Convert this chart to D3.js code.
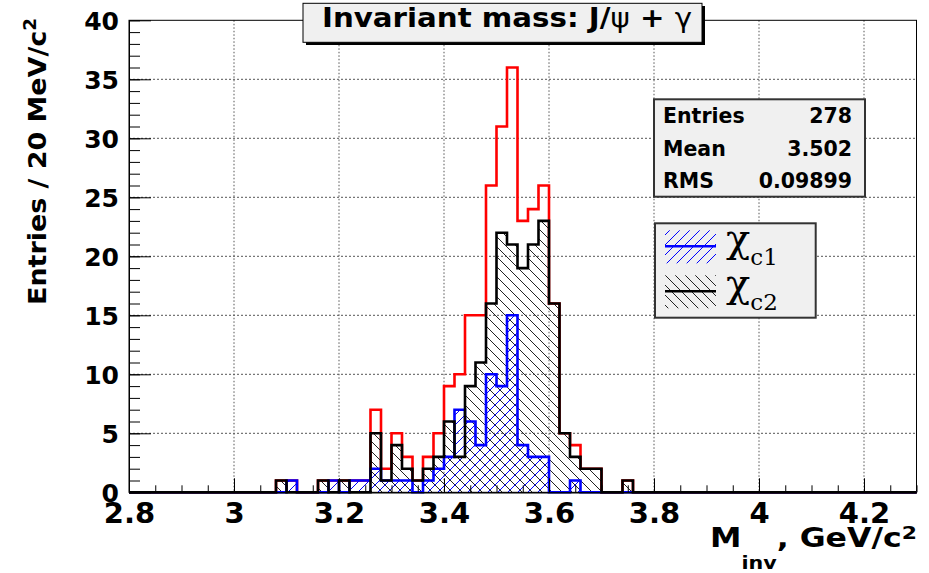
<!DOCTYPE html>
<html>
<head>
<meta charset="utf-8">
<script src="https://cdn.jsdelivr.net/npm/d3@7"></script>
<style>
  body { margin: 0; background: #fff; }
  svg { display: block; }
  text { font-family: "DejaVu Sans", sans-serif; font-weight: bold; fill: #000; }
</style>
</head>
<body>
<svg id="chart"></svg>
<script>
let width = 929, height = 573;
let frame = {left: 129, right: 916.5, top: 20.3, bottom: 492.3};

// lower edge of each 20 MeV bin (GeV/c^2) that carries entries
let massLow = [3.08, 3.10, 3.12, 3.14, 3.16, 3.18, 3.20, 3.22, 3.24, 3.26,
               3.28, 3.30, 3.32, 3.34, 3.36, 3.38, 3.40, 3.42, 3.44, 3.46,
               3.48, 3.50, 3.52, 3.54, 3.56, 3.58, 3.60, 3.62, 3.64, 3.66,
               3.68, 3.70, 3.72, 3.74];
let totalCounts = [1, 1, 0, 0, 1, 1, 1, 1, 1, 7,
                   2, 5, 3, 1, 3, 5, 9, 10, 15, 15,
                   26, 31, 36, 23, 24, 26, 16, 5, 4, 2,
                   2, 0, 0, 1];
let chiC1Counts = [0, 1, 0, 0, 0, 1, 0, 1, 1, 2,
                   1, 1, 1, 0, 1, 2, 3, 7, 6, 4,
                   10, 9, 15, 4, 3, 3, 0, 0, 1, 0,
                   0, 0, 0, 0];
let chiC2Counts = [1, 0, 0, 0, 1, 0, 1, 0, 0, 5,
                   1, 4, 2, 1, 2, 3, 6, 3, 9, 11,
                   16, 22, 21, 19, 21, 23, 16, 5, 3, 2,
                   2, 0, 0, 1];
let binWidth = 0.02;
let xDomain = [2.8, 4.3];
let yDomain = [0, 40];
let xTicks = [2.8, 3.0, 3.2, 3.4, 3.6, 3.8, 4.0, 4.2];
let xMinorTicks = d3.range(0, 31).map(i => 2.8 + i * 0.05);
let yTicks = [0, 5, 10, 15, 20, 25, 30, 35, 40];
let yMinorTicks = d3.range(0, 41);
let statNames = ["Entries", "Mean", "RMS"];
let statValues = ["278", "3.502", "0.09899"];

let svg = d3.select("#chart").attr("width", width).attr("height", height);
svg.append("rect").attr("width", width).attr("height", height).attr("fill", "#fff");

let x = d3.scaleLinear().domain(xDomain).range([frame.left, frame.right]);
let y = d3.scaleLinear().domain(yDomain).range([frame.bottom, frame.top]);

// hatch patterns
let defs = svg.append("defs");
function hatch(id, color, d) {
  defs.append("pattern")
    .attr("id", id).attr("patternUnits", "userSpaceOnUse")
    .attr("width", 10).attr("height", 10)
    .append("path").attr("d", d)
    .attr("stroke", color).attr("stroke-width", 1).attr("fill", "none");
}
hatch("hatchBlue", "#0000ff", "M0,10L10,0M-5,5L5,-5M5,15L15,5");
hatch("hatchBlack", "#222", "M0,0L10,10M-5,5L5,15M5,-5L15,5");

// grid
svg.append("g").selectAll("line").data(xTicks.slice(1)).join("line")
  .attr("x1", d => x(d)).attr("x2", d => x(d))
  .attr("y1", frame.top).attr("y2", frame.bottom)
  .attr("stroke", "#555").attr("stroke-dasharray", "1.5,2");
svg.append("g").selectAll("line").data(yTicks.slice(1, -1)).join("line")
  .attr("y1", d => y(d)).attr("y2", d => y(d))
  .attr("x1", frame.left).attr("x2", frame.right)
  .attr("stroke", "#555").attr("stroke-dasharray", "2,2");

// frame
svg.append("rect")
  .attr("x", frame.left).attr("y", frame.top)
  .attr("width", frame.right - frame.left).attr("height", frame.bottom - frame.top)
  .attr("fill", "none").attr("stroke", "#000").attr("stroke-width", 1);

// histograms
function steps(counts) {
  let pts = [[xDomain[0], 0]];
  massLow.forEach((m, i) => pts.push([m, counts[i]]));
  pts.push([massLow[massLow.length - 1] + binWidth, 0]);
  pts.push([xDomain[1], 0]);
  return pts;
}
let line = d3.line().x(d => x(d[0])).y(d => y(d[1])).curve(d3.curveStepAfter);
let area = d3.area().x(d => x(d[0])).y0(y(0)).y1(d => y(d[1])).curve(d3.curveStepAfter);

svg.append("path").attr("d", line(steps(totalCounts)))
  .attr("fill", "none").attr("stroke", "#ff0000").attr("stroke-width", 2.6);
svg.append("path").attr("d", area(steps(chiC2Counts))).attr("fill", "url(#hatchBlack)");
svg.append("path").attr("d", area(steps(chiC1Counts))).attr("fill", "url(#hatchBlue)");
svg.append("path").attr("d", line(steps(chiC1Counts)))
  .attr("fill", "none").attr("stroke", "#0000ff").attr("stroke-width", 2.6);
svg.append("path").attr("d", line(steps(chiC2Counts)))
  .attr("fill", "none").attr("stroke", "#000").attr("stroke-width", 2.6);

// axes, ticks pointing inwards like ROOT
let xAxisG = svg.append("g").attr("transform", `translate(0,${frame.bottom})`);
xAxisG.append("g").call(d3.axisBottom(x).tickValues(xMinorTicks).tickSize(-7).tickSizeOuter(0).tickFormat(""));
xAxisG.append("g").call(d3.axisBottom(x).tickValues(xTicks).tickSize(-14).tickSizeOuter(0).tickFormat(d3.format("~g")));
xAxisG.selectAll("text").attr("y", 31).attr("dy", 0)
  .style("font-family", "DejaVu Sans").style("font-size", "29px").style("font-weight", "bold");

let yAxisG = svg.append("g").attr("transform", `translate(${frame.left},0)`);
yAxisG.append("g").call(d3.axisLeft(y).tickValues(yMinorTicks).tickSize(-11).tickSizeOuter(0).tickFormat(""));
yAxisG.append("g").call(d3.axisLeft(y).tickValues(yTicks).tickSize(-22).tickSizeOuter(0));
yAxisG.selectAll("text").attr("x", -10).attr("dy", "0.36em")
  .style("font-family", "DejaVu Sans").style("font-size", "25px").style("font-weight", "bold");
svg.selectAll(".domain").attr("stroke", "#000");
svg.selectAll(".tick line").attr("stroke", "#000");

// axis titles
let yTitle = svg.append("text")
  .attr("transform", "translate(46,305) rotate(-90)")
  .attr("textLength", 287).attr("lengthAdjust", "spacingAndGlyphs")
  .style("font-size", "25px");
yTitle.append("tspan").text("Entries / 20 MeV/c");
yTitle.append("tspan").attr("dy", -10).style("font-size", "17px").text("2");

let xTitle = svg.append("text")
  .attr("x", 710).attr("y", 546.7)
  .attr("textLength", 207).attr("lengthAdjust", "spacingAndGlyphs")
  .style("font-size", "26px");
xTitle.append("tspan").text("M");
xTitle.append("tspan").attr("dy", 22).style("font-size", "17px").text("inv");
xTitle.append("tspan").attr("dy", -22).text(", GeV/c");
xTitle.append("tspan").attr("dy", -8).style("font-size", "18px").text("2");

// title box
svg.append("rect").attr("x", 306).attr("y", 6).attr("width", 399).attr("height", 39).attr("fill", "#000");
svg.append("rect").attr("x", 303).attr("y", 3.3).attr("width", 399).attr("height", 39)
  .attr("fill", "#f0f0f0").attr("stroke", "#000").attr("stroke-width", 1);
let title = svg.append("text").attr("x", 322).attr("y", 27)
  .attr("textLength", 370).attr("lengthAdjust", "spacingAndGlyphs")
  .style("font-size", "26px");
title.append("tspan").text("Invariant mass: J/");
title.append("tspan").style("font-weight", "normal").text("ψ");
title.append("tspan").text(" + ");
title.append("tspan").style("font-weight", "normal").text("γ");

// stats box
let statBox = {x: 654, y: 99.3, w: 211, h: 97.4};
svg.append("rect").attr("x", statBox.x).attr("y", statBox.y)
  .attr("width", statBox.w).attr("height", statBox.h)
  .attr("fill", "#f0f0f0").attr("stroke", "#333").attr("stroke-width", 2);
let rowH = statBox.h / statNames.length;
statNames.forEach((name, i) => {
  let by = statBox.y + rowH * (i + 0.5) + 7.5;
  svg.append("text").attr("x", 663).attr("y", by).style("font-size", "20.5px").text(name);
  svg.append("text").attr("x", 852).attr("y", by).attr("text-anchor", "end")
    .style("font-size", "20.5px").text(statValues[i]);
});

// legend
let legendItems = [
  {fill: "url(#hatchBlue)", color: "#0000ff", sub: "c1"},
  {fill: "url(#hatchBlack)", color: "#000", sub: "c2"}
];
let legBox = {x: 655, y: 223.3, w: 160.7, h: 94.4};
svg.append("rect").attr("x", legBox.x).attr("y", legBox.y)
  .attr("width", legBox.w).attr("height", legBox.h)
  .attr("fill", "#f0f0f0").attr("stroke", "#333").attr("stroke-width", 2);
legendItems.forEach((item, i) => {
  let top = legBox.y + 7 + i * 45;
  svg.append("rect").attr("x", 665).attr("y", top).attr("width", 51).attr("height", 33).attr("fill", item.fill);
  svg.append("line").attr("x1", 665).attr("x2", 716).attr("y1", top + 16).attr("y2", top + 16)
    .attr("stroke", item.color).attr("stroke-width", 2.5);
  let t = svg.append("text").attr("x", 726).attr("y", top + 22)
    .style("font-family", "'DejaVu Serif', serif").style("font-weight", "normal");
  t.append("tspan").style("font-size", "40px").text("χ");
  t.append("tspan").attr("dy", 13).style("font-size", "23px").text(item.sub);
});
</script>
</body>
</html>
